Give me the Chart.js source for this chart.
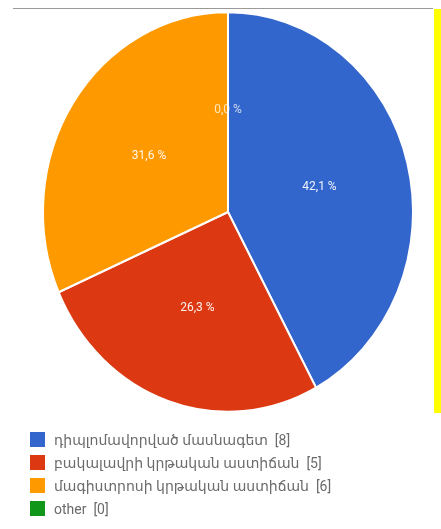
<!DOCTYPE html>
<html>
<head>
<meta charset="utf-8">
<script src="https://cdn.jsdelivr.net/npm/chart.js@4.4.0/dist/chart.umd.min.js"></script>
<style>
  html, body { margin: 0; padding: 0; background: #fff; }
  #wrap { position: relative; width: 441px; height: 529px; overflow: hidden; }
  #chart { position: absolute; left: 0; top: 0; }
  #topline { position: absolute; left: 13px; top: 8px; width: 420px; height: 1px; background: #9a9a9a; }
  #yellow { position: absolute; left: 434px; top: 9px; width: 7px; height: 404px; background: #ffff00; }
  #legend { position: absolute; left: 30px; top: 428px; font-family: Roboto, "DejaVu Sans", sans-serif; font-size: 14px; color: #6b6b6b; }
  .row { height: 23px; display: flex; align-items: center; }
  .box { width: 15px; height: 15px; margin-right: 9px; }
</style>
</head>
<body>
<div id="wrap">
  <canvas id="chart" width="441" height="529"></canvas>
  <div id="topline"></div>
  <div id="yellow"></div>
  <div id="legend"></div>
</div>
<script>
const categories = [
  "դիպլոմավորված մասնագետ",
  "բակալավրի կրթական աստիճան",
  "մագիստրոսի կրթական աստիճան",
  "other",
];
const counts = [8, 5, 6, 0];
const colors = ["#3366cc", "#dc3912", "#ff9900", "#109618"];

const total = counts.reduce((a, b) => a + b, 0);
const stretchY = 1.08;

// pie in the reference is slightly taller than wide
const stretchPlugin = {
  id: "stretch",
  beforeDatasetsDraw(chart) {
    const arc = chart.getDatasetMeta(0).data[0];
    const ctx = chart.ctx;
    ctx.save();
    ctx.translate(arc.x, arc.y);
    ctx.scale(1, stretchY);
    ctx.translate(-arc.x, -arc.y);
  },
  afterDatasetsDraw(chart) {
    const ctx = chart.ctx;
    ctx.restore();
    // percentage labels
    const meta = chart.getDatasetMeta(0);
    ctx.save();
    ctx.font = "12px Roboto, 'DejaVu Sans', sans-serif";
    ctx.textAlign = "center";
    ctx.textBaseline = "middle";
    meta.data.forEach((el, i) => {
      const p = el.getProps(["x", "y", "startAngle", "endAngle", "outerRadius"], true);
      const mid = (p.startAngle + p.endAngle) / 2;
      const r = p.outerRadius * 0.51;
      const x = p.x + Math.cos(mid) * r;
      const y = p.y + Math.sin(mid) * r * stretchY;
      const pct = (counts[i] / total * 100).toFixed(1).replace(".", ",") + " %";
      ctx.fillStyle = counts[i] === 0 ? "rgba(255,255,255,0.75)" : "rgba(255,255,255,0.92)";
      ctx.fillText(pct, x, y);
    });
    ctx.restore();
  },
};

const chart = new Chart(document.getElementById("chart"), {
  type: "pie",
  data: {
    labels: categories,
    datasets: [
      {
        data: counts,
        backgroundColor: colors,
        borderColor: "#ffffff",
        borderWidth: 2,
      },
    ],
  },
  options: {
    responsive: false,
    animation: false,
    layout: { padding: { left: 42, right: 27, top: 26, bottom: 131 } },
    plugins: {
      legend: { display: false },
      tooltip: { enabled: false },
    },
  },
  plugins: [stretchPlugin],
});

// legend below the pie
const legend = document.getElementById("legend");
categories.forEach((name, i) => {
  const row = document.createElement("div");
  row.className = "row";
  const box = document.createElement("div");
  box.className = "box";
  box.style.background = colors[i];
  const txt = document.createElement("span");
  txt.textContent = name + "  [" + counts[i] + "]";
  txt.style.whiteSpace = "pre";
  row.appendChild(box);
  row.appendChild(txt);
  legend.appendChild(row);
});
</script>
</body>
</html>
